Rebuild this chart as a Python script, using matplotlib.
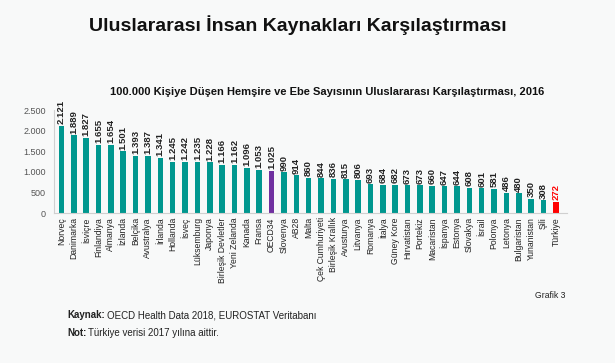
import matplotlib
matplotlib.use("Agg")
import matplotlib.pyplot as plt
from matplotlib.ticker import FuncFormatter

countries = ["Norveç", "Danimarka", "İsviçre", "Finlandiya", "Almanya", "İzlanda", "Belçika",
             "Avustralya", "İrlanda", "Hollanda", "İsveç", "Lüksemburg", "Japonya",
             "Birleşik Devletler", "Yeni Zelanda", "Kanada", "Fransa", "OECD34", "Slovenya",
             "AB28", "Malta", "Çek Cumhuriyeti", "Birleşik Krallık", "Avusturya", "Litvanya",
             "Romanya", "İtalya", "Güney Kore", "Hırvatistan", "Portekiz", "Macaristan",
             "İspanya", "Estonya", "Slovakya", "İsrail", "Polonya", "Letonya", "Bulgaristan",
             "Yunanistan", "Şili", "Türkiye"]
values = [2121, 1889, 1827, 1655, 1654, 1501, 1393, 1387, 1341, 1245, 1242, 1235, 1228,
          1166, 1162, 1096, 1053, 1025, 990, 914, 860, 844, 836, 815, 806, 693, 684, 682,
          673, 673, 660, 647, 644, 608, 601, 581, 486, 480, 350, 308, 272]
yticks = [0, 500, 1000, 1500, 2000, 2500]

plt.rcParams['font.family'] = ['Liberation Sans', 'DejaVu Sans']

fig = plt.figure(figsize=(6.15, 3.63), dpi=100)
fig.patch.set_facecolor("#f8f9f9")
ax = fig.add_axes([54/615, 1-213/363, (567-54)/615, (213-110)/363 * 2700/2500])
ax.set_facecolor("none")

teal = "#00978f"
colors = []
for c in countries:
    if c == "OECD34":
        colors.append("#7030a0")
    elif c == "Türkiye":
        colors.append("#ff0000")
    else:
        colors.append(teal)

x = list(range(len(countries)))
ax.bar(x, values, width=0.45, color=colors)
for xi, v, c in zip(x, values, countries):
    lbl = f"{v:,}".replace(",", ".")
    ax.text(xi, v + 40, lbl, rotation=90, ha="center", va="bottom", fontsize=6.8,
            color="#ff0000" if c == "Türkiye" else "#222222", fontweight="bold")

ax.set_xlim(-0.6, len(countries) - 0.1)
ax.set_ylim(0, 2700)
ax.set_yticks(yticks)
ax.yaxis.set_major_formatter(FuncFormatter(lambda v, p: f"{int(v):,}".replace(",", ".")))
ax.set_xticks(x)
ax.set_xticklabels(countries, rotation=90, fontsize=6.2, color="#222222")
ax.tick_params(axis="both", length=0, pad=3)
ax.tick_params(axis="y", labelsize=6.5, colors="#555555", pad=6)
for s in ["top", "right"]:
    ax.spines[s].set_visible(False)
ax.spines["left"].set_color("#d0d0d0")
ax.spines["bottom"].set_color("#d0d0d0")
ax.spines["left"].set_bounds(0, 2500)

fig.text(298/615, 1-25/363, "Uluslararası İnsan Kaynakları Karşılaştırması", ha="center", va="center",
         fontsize=14, fontweight="bold", color="#111111")
fig.text(327/615, 1-92/363, "100.000 Kişiye Düşen Hemşire ve Ebe Sayısının Uluslararası Karşılaştırması, 2016",
         ha="center", va="center", fontsize=8, fontweight="bold", color="#111111")
fig.text(535/615, 1-295/363, "Grafik 3", ha="left", va="center", fontsize=6.2, color="#222222")

renderer = fig.canvas.get_renderer()

def two_part(xpx, ypx, bold, rest):
    t = fig.text(xpx/615, 1-ypx/363, bold, ha="left", va="baseline", fontsize=7,
                 fontweight="bold", color="#222222")
    w = t.get_window_extent(renderer=renderer).width
    fig.text((xpx + w + 2)/615, 1-ypx/363, rest, ha="left", va="baseline", fontsize=7,
             color="#222222")

two_part(67, 318, "Kaynak:", "OECD Health Data 2018, EUROSTAT Veritabanı")
two_part(67, 336, "Not:", "Türkiye verisi 2017 yılına aittir.")

fig.savefig("out.png", dpi=100, facecolor=fig.get_facecolor())
